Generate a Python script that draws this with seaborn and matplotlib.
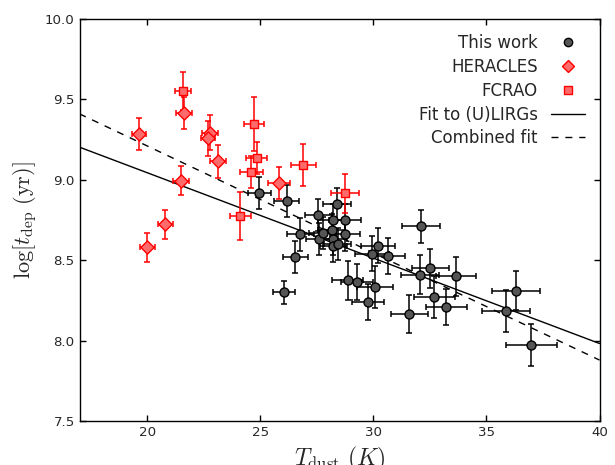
import numpy as np
import pandas as pd
import matplotlib
matplotlib.use("Agg")
import matplotlib.pyplot as plt
from matplotlib.lines import Line2D
import seaborn as sns

# ---- data ----
this_T = [24.95, 26.17, 26.76, 26.55, 26.05, 27.57, 27.61, 27.75, 28.16, 28.22, 28.22,
          28.22, 28.39, 28.42, 28.74, 28.74, 28.86, 29.26, 29.76, 29.93, 30.19, 30.06,
          30.66, 31.58, 32.05, 32.10, 32.52, 32.69, 33.22, 33.65, 35.87, 36.31, 36.98]
this_t = [8.92, 8.87, 8.66, 8.52, 8.30, 8.78, 8.63, 8.67, 8.69, 8.75, 8.63,
          8.59, 8.85, 8.60, 8.75, 8.66, 8.375, 8.365, 8.24, 8.54, 8.59, 8.335,
          8.525, 8.165, 8.41, 8.71, 8.45, 8.27, 8.21, 8.40, 8.185, 8.31, 7.975]
this_Terr = [0.5, 0.55, 0.6, 0.55, 0.5, 0.6, 0.6, 0.6, 0.6, 0.65, 0.6,
             0.6, 0.6, 0.6, 0.7, 0.65, 0.67, 0.7, 0.72, 0.75, 0.75, 0.8,
             0.74, 0.82, 0.85, 0.84, 0.82, 0.9, 0.9, 0.9, 1.06, 1.08, 1.13]
this_terr = [0.1, 0.1, 0.1, 0.1, 0.07, 0.1, 0.1, 0.1, 0.1, 0.1, 0.1,
             0.1, 0.1, 0.1, 0.1, 0.1, 0.12, 0.11, 0.11, 0.11, 0.11, 0.13,
             0.11, 0.12, 0.12, 0.1, 0.12, 0.13, 0.11, 0.12, 0.13, 0.12, 0.13]

her_T = [19.62, 21.62, 22.76, 22.68, 23.11, 21.48, 25.82, 20.80, 20.00]
her_t = [9.286, 9.416, 9.294, 9.257, 9.114, 8.994, 8.982, 8.723, 8.580]
her_Terr = [0.32, 0.35, 0.35, 0.3, 0.35, 0.35, 0.5, 0.35, 0.32]
her_terr = [0.1, 0.1, 0.11, 0.11, 0.1, 0.09, 0.1, 0.09, 0.09]

fc_T = [21.57, 24.73, 24.83, 24.60, 26.90, 28.75, 24.12]
fc_t = [9.553, 9.346, 9.137, 9.050, 9.091, 8.916, 8.773]
fc_Terr = [0.34, 0.45, 0.45, 0.5, 0.54, 0.62, 0.45]
fc_terr = [0.12, 0.17, 0.1, 0.1, 0.13, 0.12, 0.15]

fit_T = [17.0, 40.0]
fit_ulirg = [9.203, 7.982]
fit_comb = [9.410, 7.879]

labels = ["This work", "HERACLES", "FCRAO", "Fit to (U)LIRGs", "Combined fit"]
xticks = [20, 25, 30, 35, 40]
yticks = [7.5, 8.0, 8.5, 9.0, 9.5, 10.0]

# ---- style ----
sns.set_style("ticks", {"xtick.direction": "in", "ytick.direction": "in"})
plt.rcParams["font.family"] = ["DejaVu Sans"]
plt.rcParams["mathtext.fontset"] = "cm"

fig = plt.figure(figsize=(6.15, 4.65), dpi=100)
ax = fig.add_axes([79.5 / 615, 1 - 421 / 465, 520 / 615, 402 / 465])

gray_face = "#555555"
red_face = "#ff6b6b"

# fits
fits = pd.DataFrame({"T": fit_T, "u": fit_ulirg, "c": fit_comb})
sns.lineplot(data=fits, x="T", y="u", ax=ax, color="black", lw=1.0, zorder=1)
sns.lineplot(data=fits, x="T", y="c", ax=ax, color="black", lw=1.0, ls=(0, (5, 5)), zorder=1)

# error bars
eb_kw = dict(fmt="none", capsize=2.5, elinewidth=1.1, capthick=1.1)
ax.errorbar(this_T, this_t, xerr=this_Terr, yerr=this_terr, ecolor="black", zorder=2, **eb_kw)
ax.errorbar(her_T, her_t, xerr=her_Terr, yerr=her_terr, ecolor="red", zorder=2, **eb_kw)
ax.errorbar(fc_T, fc_t, xerr=fc_Terr, yerr=fc_terr, ecolor="red", zorder=2, **eb_kw)

# markers
sns.scatterplot(x=this_T, y=this_t, ax=ax, marker="o", s=42, color=gray_face,
                edgecolor="black", linewidth=1.0, zorder=3)
sns.scatterplot(x=her_T, y=her_t, ax=ax, marker="D", s=45, color=red_face,
                edgecolor="red", linewidth=1.0, zorder=3)
sns.scatterplot(x=fc_T, y=fc_t, ax=ax, marker="s", s=40, color=red_face,
                edgecolor="red", linewidth=1.0, zorder=3)

ax.set_xlim(17, 40)
ax.set_ylim(7.5, 10.0)
ax.set_xticks(xticks)
ax.set_yticks(yticks)
ax.set_yticklabels([f"{v:.1f}" for v in yticks])
ax.tick_params(axis="both", which="major", direction="in", length=4, width=1,
               labelsize=9.6, top=True, right=True, color="black")
for sp in ax.spines.values():
    sp.set_linewidth(1.0)
    sp.set_color("black")

ax.set_xlabel(r"$T_{\rm dust}\ (K)$", fontsize=17)
ax.set_ylabel(r"$\log[t_{\rm dep}\ ({\rm yr})]$", fontsize=16)

handles = [
    Line2D([], [], marker="o", ls="none", markersize=6, markerfacecolor=gray_face, markeredgecolor="black"),
    Line2D([], [], marker="D", ls="none", markersize=6, markerfacecolor=red_face, markeredgecolor="red"),
    Line2D([], [], marker="s", ls="none", markersize=6, markerfacecolor=red_face, markeredgecolor="red"),
    Line2D([], [], color="black", lw=1.0),
    Line2D([], [], color="black", lw=1.0, ls=(0, (5, 5))),
]
ax.legend(handles, labels, loc="upper right", frameon=False, markerfirst=False,
          fontsize=12, labelspacing=0.35, numpoints=1)

fig.savefig("out.png", dpi=100)
